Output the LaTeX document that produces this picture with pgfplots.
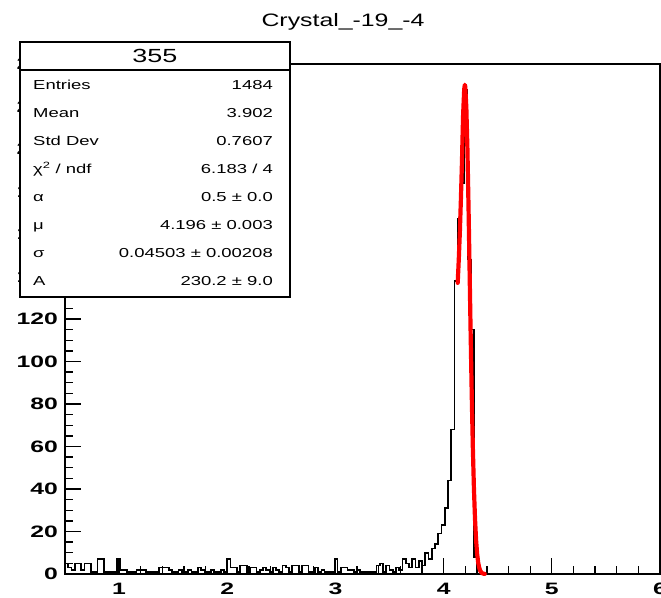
\documentclass[border=0pt]{standalone}
\usepackage{pgfplots}
\pgfplotsset{compat=1.18}
\usepackage{fontspec}
\setmainfont{Liberation Sans}
\newfontfamily\titlefont{Liberation Sans}[FakeStretch=1.38]
\newfontfamily\statfont{Liberation Sans}[FakeStretch=1.42]
\newfontfamily\tickfont{Liberation Sans}[FakeStretch=1.5]

\begin{document}
\begin{tikzpicture}
\useasboundingbox (0bp,0bp) rectangle (661bp,598bp);
\begin{axis}[
    at={(65bp,24bp)}, anchor=south west,
    scale only axis, width=595bp, height=510bp,
    xmin=0.5, xmax=6, ymin=0, ymax=240,
    xtick={1,2,3,4,5,6}, minor x tick num=4,
    ytick={0,20,40,60,80,100,120,140,160,180,200,220,240}, minor y tick num=3,
    xtick pos=bottom, ytick pos=left, tick align=inside,
    major tick length=16bp, minor tick length=8bp,
    axis line style={line width=1.5bp},
    every tick/.style={black, line width=1.3bp},
    /pgf/number format/assume math mode=true,
    xticklabel style={font={\fontsize{16.5bp}{17bp}\tickfont\bfseries}, inner sep=0pt, anchor=north, yshift=-9bp},
    yticklabel style={font={\fontsize{16.5bp}{17bp}\tickfont\bfseries}, inner sep=0pt, anchor=east, xshift=-7bp},
    clip=false,
]
% histogram, bins of 0.03 starting at 0.50
\addplot[const plot, black, line width=1.7bp] coordinates {
(0.50,5) (0.53,3) (0.56,2) (0.59,5) (0.62,5) (0.65,2) (0.68,5) (0.71,5) (0.74,1) (0.77,1)
(0.80,7) (0.83,7) (0.86,1) (0.89,1) (0.92,1) (0.95,1) (0.98,7) (1.01,2) (1.04,2) (1.07,1)
(1.10,1) (1.13,1) (1.16,2) (1.19,2) (1.22,2) (1.25,1) (1.28,1) (1.31,1) (1.34,1) (1.37,3)
(1.40,3) (1.43,3) (1.46,2) (1.49,1) (1.52,1) (1.55,2) (1.58,1) (1.61,1) (1.64,2) (1.67,1)
(1.70,1) (1.73,3) (1.76,2) (1.79,1) (1.82,1) (1.85,2) (1.88,1) (1.91,1) (1.94,2) (1.97,1)
(2.00,7) (2.03,3) (2.06,3) (2.09,1) (2.12,4) (2.15,4) (2.18,1) (2.21,3) (2.24,3) (2.27,1)
(2.30,2) (2.33,3) (2.36,2) (2.39,1) (2.42,3) (2.45,2) (2.48,1) (2.51,4) (2.54,3) (2.57,1)
(2.60,4) (2.63,4) (2.66,1) (2.69,4) (2.72,4) (2.75,1) (2.78,1) (2.81,3) (2.84,1) (2.87,2)
(2.90,1) (2.93,1) (2.96,1) (2.99,7) (3.02,1) (3.05,3) (3.08,3) (3.11,2) (3.14,2) (3.17,1)
(3.20,2) (3.23,1) (3.26,1) (3.29,1) (3.32,1) (3.35,1) (3.38,4) (3.41,5) (3.44,1) (3.47,4)
(3.50,2) (3.53,1) (3.56,3) (3.59,2) (3.62,7) (3.65,5) (3.68,3) (3.71,7) (3.74,3) (3.77,6)
(3.80,4) (3.83,10) (3.86,7) (3.89,12) (3.92,14) (3.95,19) (3.98,23) (4.01,31) (4.04,44) (4.07,68)
(4.10,138) (4.13,167) (4.16,184) (4.19,228) (4.22,148) (4.25,115) (4.28,8) (4.31,0) (6.00,0)
};
% fit
\addplot[red, line width=4.2bp, line join=round, line cap=round] coordinates {
(4.130,137) (4.140,148) (4.150,161) (4.160,177) (4.170,195) (4.1735,203) (4.180,216)
(4.190,228) (4.196,230.2) (4.200,229.3) (4.210,219.3) (4.220,199.7) (4.230,173.0)
(4.240,142.7) (4.250,112.1) (4.260,83.8) (4.270,59.6) (4.280,40.3) (4.290,26.0)
(4.300,15.9) (4.310,9.3) (4.320,5.16) (4.330,2.73) (4.340,1.38) (4.350,0.66)
(4.360,0.30) (4.370,0.13) (4.380,0.05)
};
\end{axis}
% title
\node[anchor=base, inner sep=0pt, font={\fontsize{18bp}{20bp}\titlefont}] at (343bp,571bp) {Crystal\_-19\_-4};
% stats box
\draw[line width=1.6bp, fill=white] (20bp,301bp) rectangle (290bp,556bp);
\draw[line width=1.6bp] (20bp,528bp) -- (290bp,528bp);
\node[anchor=center, inner sep=0pt, font={\fontsize{19bp}{20bp}\statfont}] at (155bp,542bp) {355};
\begin{scope}[every node/.style={inner sep=0pt, font={\fontsize{13bp}{14bp}\statfont}}]
\node[anchor=base west] at (33bp,508.8bp) {Entries};
\node[anchor=base east] at (273bp,508.8bp) {1484};
\node[anchor=base west] at (33bp,480.8bp) {Mean};
\node[anchor=base east] at (273bp,480.8bp) {3.902};
\node[anchor=base west] at (33bp,452.8bp) {Std Dev};
\node[anchor=base east] at (273bp,452.8bp) {0.7607};
\node[anchor=base west] at (33bp,424.8bp) {χ\textsuperscript{2} / ndf};
\node[anchor=base east] at (273bp,424.8bp) {6.183 / 4};
\node[anchor=base west] at (33bp,396.8bp) {α};
\node[anchor=base east] at (273bp,396.8bp) {0.5 ± 0.0};
\node[anchor=base west] at (33bp,368.8bp) {μ};
\node[anchor=base east] at (273bp,368.8bp) {4.196 ± 0.003};
\node[anchor=base west] at (33bp,340.8bp) {σ};
\node[anchor=base east] at (273bp,340.8bp) {0.04503 ± 0.00208};
\node[anchor=base west] at (33bp,312.8bp) {A};
\node[anchor=base east] at (273bp,312.8bp) {230.2 ± 9.0};
\end{scope}
\end{tikzpicture}
\end{document}
